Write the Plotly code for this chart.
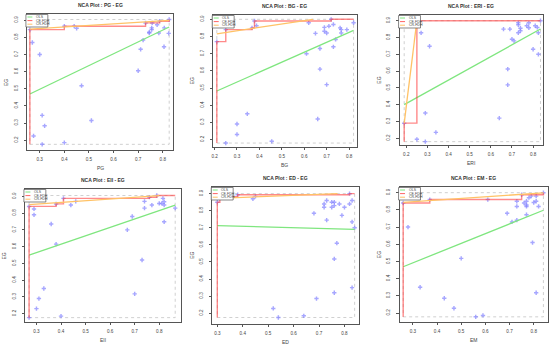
import numpy as np
import plotly.graph_objects as go

# ---------------- data ----------------
pg = [0.26, 0.27, 0.30, 0.40, 0.44, 0.45, 0.31, 0.32, 0.275, 0.31, 0.40, 0.47, 0.51, 0.70, 0.71,
      0.72, 0.73, 0.745, 0.745, 0.755, 0.757, 0.755, 0.777, 0.784, 0.787, 0.805, 0.806, 0.824, 0.826]
eg_pg = [0.845, 0.77, 0.70, 0.865, 0.865, 0.853, 0.345, 0.284, 0.225, 0.176, 0.186, 0.518, 0.315, 0.605, 0.73,
         0.784, 0.884, 0.83, 0.825, 0.855, 0.884, 0.845, 0.873, 0.825, 0.894, 0.745, 0.855, 0.823, 0.904]

bg = [0.21, 0.25, 0.367, 0.378, 0.387, 0.30, 0.30, 0.346, 0.25, 0.455, 0.61, 0.62, 0.65, 0.67, 0.67,
      0.66, 0.70, 0.69, 0.69, 0.70, 0.71, 0.72, 0.73, 0.73, 0.74, 0.76, 0.765, 0.765, 0.79, 0.82]
eg_bg = [0.77, 0.84, 0.85, 0.89, 0.863, 0.291, 0.23, 0.35, 0.18, 0.19, 0.70, 0.88, 0.818, 0.73, 0.61,
         0.32, 0.52, 0.853, 0.83, 0.82, 0.86, 0.90, 0.87, 0.74, 0.783, 0.85, 0.84, 0.82, 0.84, 0.88]

eri = [0.19, 0.25, 0.27, 0.31, 0.25, 0.29, 0.29, 0.34, 0.64, 0.68, 0.68, 0.66, 0.69, 0.70, 0.71,
       0.73, 0.73, 0.73, 0.74, 0.74, 0.77, 0.78, 0.78, 0.80, 0.81, 0.82, 0.825, 0.825, 0.835]
eg_eri = [0.29, 0.90, 0.828, 0.748, 0.194, 0.18, 0.35, 0.235, 0.32, 0.612, 0.518, 0.85, 0.85, 0.79, 0.78,
          0.888, 0.876, 0.828, 0.855, 0.84, 0.87, 0.888, 0.858, 0.73, 0.87, 0.86, 0.828, 0.70, 0.90]

eii = [0.27, 0.27, 0.29, 0.29, 0.36, 0.38, 0.38, 0.33, 0.31, 0.30, 0.40, 0.41, 0.44, 0.46, 0.67,
       0.69, 0.70, 0.73, 0.74, 0.74, 0.76, 0.77, 0.79, 0.80, 0.81, 0.815, 0.82, 0.82, 0.82, 0.865]
eg_eii = [0.84, 0.176, 0.825, 0.79, 0.735, 0.615, 0.855, 0.35, 0.29, 0.23, 0.185, 0.888, 0.848, 0.87, 0.70,
          0.78, 0.318, 0.52, 0.87, 0.83, 0.895, 0.848, 0.905, 0.858, 0.858, 0.888, 0.868, 0.848, 0.748, 0.83]

ed = [0.30, 0.31, 0.38, 0.44, 0.45, 0.52, 0.54, 0.64, 0.69, 0.68, 0.72, 0.72, 0.73, 0.73, 0.75,
      0.75, 0.76, 0.76, 0.76, 0.77, 0.76, 0.78, 0.79, 0.80, 0.82, 0.82, 0.83, 0.83, 0.83, 0.84]
eg_ed = [0.85, 0.882, 0.894, 0.87, 0.884, 0.228, 0.175, 0.185, 0.286, 0.785, 0.84, 0.82, 0.745, 0.86, 0.82,
         0.85, 0.85, 0.83, 0.518, 0.61, 0.32, 0.84, 0.773, 0.82, 0.84, 0.90, 0.86, 0.735, 0.35, 0.70]

em = [0.26, 0.28, 0.33, 0.37, 0.43, 0.47, 0.50, 0.56, 0.59, 0.61, 0.69, 0.71, 0.73, 0.73, 0.73,
      0.75, 0.76, 0.77, 0.77, 0.77, 0.77, 0.78, 0.79, 0.795, 0.80, 0.81, 0.81, 0.81, 0.82, 0.84]
eg_em = [0.84, 0.70, 0.35, 0.86, 0.286, 0.228, 0.518, 0.178, 0.186, 0.86, 0.78, 0.73, 0.74, 0.85, 0.82,
         0.888, 0.84, 0.828, 0.85, 0.82, 0.772, 0.871, 0.88, 0.61, 0.843, 0.85, 0.88, 0.318, 0.82, 0.90]

x_names = ["PG", "BG", "ERI", "EII", "ED", "EM"]
y_name = "EG"
legend_labels = ["OLS", "CE-FDH", "CR-FDH"]
y_ticks = [0.2, 0.3, 0.4, 0.5, 0.6, 0.7, 0.8, 0.9]
x_ticks_a = [0.3, 0.4, 0.5, 0.6, 0.7, 0.8]
x_ticks_b = [0.2, 0.3, 0.4, 0.5, 0.6, 0.7, 0.8]

# ---------------- layout ----------------
W, H = 550, 345
FONT = "Liberation Sans, Arial, sans-serif"
C_PTS = "rgba(130,130,255,0.7)"
C_OLS = "#7fe67f"
C_CE = "rgba(255,60,60,0.6)"
C_CR = "#ffc266"

panels = [
    dict(x=pg, y=eg_pg, box=(25, 172, 14, 150), xr=(0.248, 0.843), yr=(0.143, 0.936), xt=x_ticks_a),
    dict(x=bg, y=eg_bg, box=(212, 356, 15, 147), xr=(0.194, 0.834), yr=(0.157, 0.925), xt=x_ticks_b),
    dict(x=eri, y=eg_eri, box=(399, 543, 15, 145), xr=(0.168, 0.847), yr=(0.160, 0.934), xt=x_ticks_b),
    dict(x=eii, y=eg_eii, box=(23, 180, 189, 322), xr=(0.253, 0.890), yr=(0.150, 0.944), xt=x_ticks_a),
    dict(x=ed, y=eg_ed, box=(211, 358, 187, 324), xr=(0.280, 0.856), yr=(0.137, 0.939), xt=x_ticks_a),
    dict(x=em, y=eg_em, box=(399, 548, 187, 322), xr=(0.245, 0.859), yr=(0.148, 0.933), xt=x_ticks_a),
]


def px(v):
    return v / W


def py(v):
    return 1 - v / H


def ce_fdh(x, y):
    order = np.lexsort((-y, x))
    xs, ys = x[order], y[order]
    cur = y.min()
    lx, ly = [xs[0]], [cur]
    peers = []
    for xi, yi in zip(xs, ys):
        if yi > cur or not peers:
            lx += [xi, xi]
            ly += [cur, yi]
            cur = yi
            peers.append((xi, yi))
    lx.append(x.max())
    ly.append(cur)
    return lx, ly, np.array(peers)


fig = go.Figure()
layout = {}
annotations = []
shapes = []

for i, p in enumerate(panels):
    k = "" if i == 0 else str(i + 1)
    xa, ya = "x" + k, "y" + k
    x = np.array(p["x"], dtype=float)
    y = np.array(p["y"], dtype=float)
    x0, x1, y0, y1 = p["box"]
    xmin, xmax, ymin, ymax = x.min(), x.max(), y.min(), y.max()

    # scope (dotted)
    fig.add_trace(go.Scatter(x=[xmin, xmax, xmax, xmin, xmin], y=[ymin, ymin, ymax, ymax, ymin],
                             mode="lines", line=dict(color="#c4c4c4", width=0.8, dash="dot"),
                             xaxis=xa, yaxis=ya, showlegend=False, hoverinfo="skip"))
    # points
    fig.add_trace(go.Scatter(x=x, y=y, mode="markers",
                             marker=dict(symbol="cross", size=3.6, color=C_PTS, line=dict(width=0)),
                             xaxis=xa, yaxis=ya, showlegend=False))
    # OLS
    a, b = np.polyfit(x, y, 1)
    fig.add_trace(go.Scatter(x=[xmin, xmax], y=[a * xmin + b, a * xmax + b], mode="lines",
                             line=dict(color=C_OLS, width=1.3), xaxis=xa, yaxis=ya, showlegend=False))
    # CE-FDH
    lx, ly, peers = ce_fdh(x, y)
    fig.add_trace(go.Scatter(x=lx, y=ly, mode="lines", line=dict(color=C_CE, width=1.4),
                             xaxis=xa, yaxis=ya, showlegend=False))
    # CR-FDH
    if len(peers) >= 2:
        c, d = np.polyfit(peers[:, 0], peers[:, 1], 1)
        xs_ = xmin
        if c * xs_ + d < ymin and c > 0:
            xs_ = (ymin - d) / c
        xe = xmax
        if c > 0 and c * xe + d > ymax:
            xe = (ymax - d) / c
        fig.add_trace(go.Scatter(x=[xs_, xe], y=[c * xs_ + d, c * xe + d], mode="lines",
                                 line=dict(color=C_CR, width=1.3), xaxis=xa, yaxis=ya, showlegend=False))

    common = dict(showline=True, mirror=True, linecolor="#555555", linewidth=0.8,
                  ticks="outside", ticklen=2.5, tickwidth=0.7, tickcolor="#555555",
                  showgrid=False, zeroline=False,
                  tickfont=dict(family=FONT, size=4.6, color="#444444"))
    layout["xaxis" + k] = dict(domain=[px(x0), px(x1)], range=list(p["xr"]), anchor=ya,
                               tickvals=p["xt"], ticktext=[f"{t:.1f}" for t in p["xt"]],
                               ticklabelstandoff=2, **common)
    layout["yaxis" + k] = dict(domain=[py(y1), py(y0)], range=list(p["yr"]), anchor=xa,
                               tickvals=y_ticks, ticktext=[f"{t:.1f}" for t in y_ticks],
                               tickangle=-90, ticklabelstandoff=4, **common)

    # title
    annotations.append(dict(x=px((x0 + x1) / 2), y=py(y0 - 9), xref="paper", yref="paper",
                            text=f"<b>NCA Plot : {x_names[i]} - {y_name}</b>", showarrow=False,
                            font=dict(family=FONT, size=5, color="#333333"), xanchor="center", yanchor="middle"))
    # axis titles
    annotations.append(dict(x=px((x0 + x1) / 2), y=py(y1 + 18), xref="paper", yref="paper",
                            text=x_names[i], showarrow=False,
                            font=dict(family=FONT, size=5, color="#444444"), xanchor="center", yanchor="middle"))
    annotations.append(dict(x=px(x0 - 21), y=py((y0 + y1) / 2), xref="paper", yref="paper",
                            text=y_name, showarrow=False, textangle=-90,
                            font=dict(family=FONT, size=5, color="#444444"), xanchor="center", yanchor="middle"))

    # legend box
    bx0, by0 = x0 - 1, y0 + 0.5
    shapes.append(dict(type="rect", xref="paper", yref="paper", x0=px(bx0), x1=px(bx0 + 22),
                       y0=py(by0), y1=py(by0 + 12.5), line=dict(color="#555555", width=0.7),
                       fillcolor="white", layer="above"))
    for j, (lab, col) in enumerate(zip(legend_labels, [C_OLS, "rgba(255,60,60,0.8)", C_CR])):
        yy = by0 + 2.5 + j * 3.6
        shapes.append(dict(type="line", xref="paper", yref="paper", x0=px(bx0 + 1.5), x1=px(bx0 + 6.5),
                           y0=py(yy), y1=py(yy), line=dict(color=col, width=1), layer="above"))
        annotations.append(dict(x=px(bx0 + 8), y=py(yy), xref="paper", yref="paper", text=lab,
                                showarrow=False, xanchor="left", yanchor="middle",
                                font=dict(family=FONT, size=3.5, color="#444444")))

fig.update_layout(width=W, height=H, margin=dict(l=0, r=0, t=0, b=0), autosize=False,
                  paper_bgcolor="white", plot_bgcolor="white", showlegend=False,
                  annotations=annotations, shapes=shapes, **layout)

fig.write_html("out.html", config={"displayModeBar": False},
               post_script="document.body.style.margin='0';document.body.style.overflow='hidden';")
